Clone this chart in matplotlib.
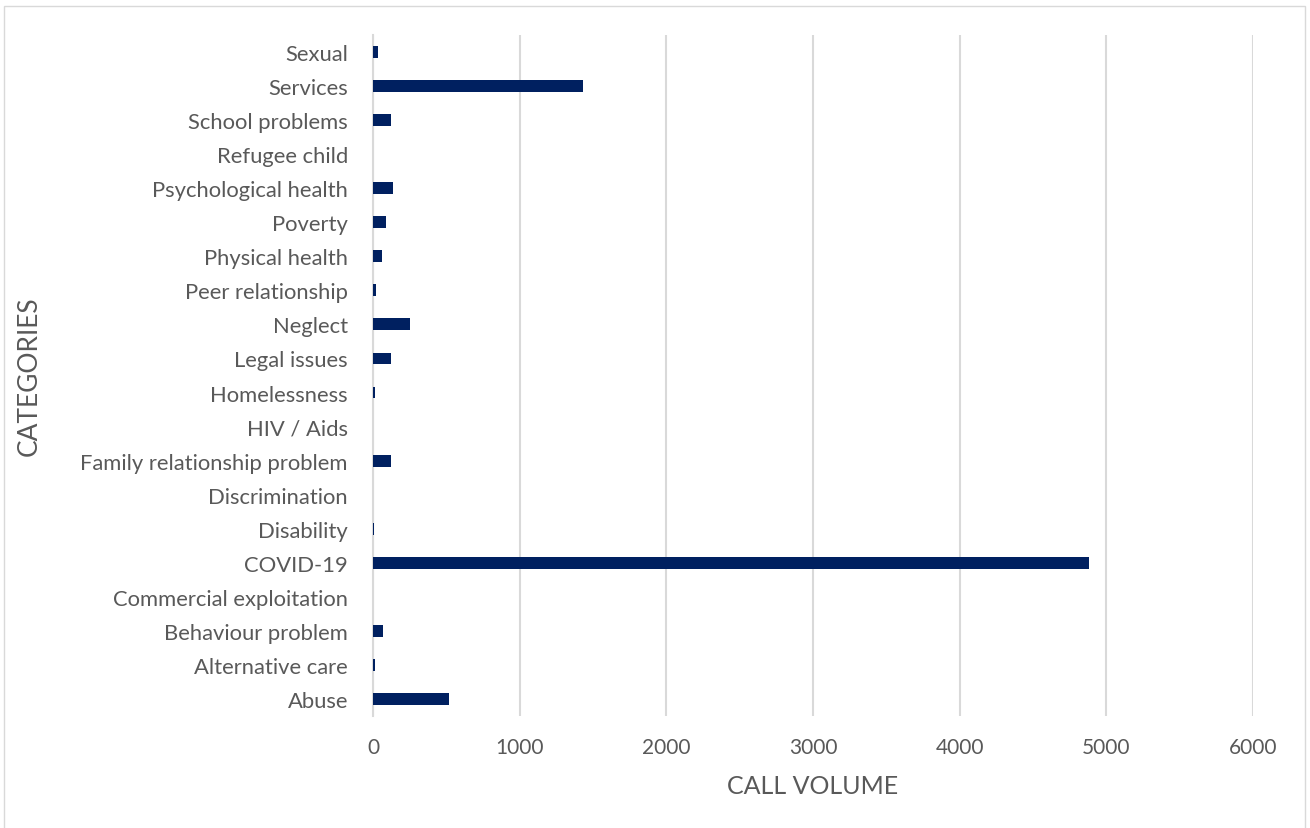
import matplotlib
matplotlib.use("Agg")
import matplotlib.pyplot as plt
from matplotlib.patches import Rectangle

# Kategorien (von unten nach oben, wie im Diagramm)
categories = ["Abuse", "Alternative care", "Behaviour problem", "Commercial exploitation",
              "COVID-19", "Disability", "Discrimination", "Family relationship problem",
              "HIV / Aids", "Homelessness", "Legal issues", "Neglect", "Peer relationship",
              "Physical health", "Poverty", "Psychological health", "Refugee child",
              "School problems", "Services", "Sexual"]
calls = [520, 14, 68, 1, 4885, 5, 0, 123, 2, 11, 121, 252, 23, 59, 89, 139, 0, 126, 1435, 32]
xticks = [0, 1000, 2000, 3000, 4000, 5000, 6000]

plt.rcParams['font.family'] = ['Lato', 'DejaVu Sans']
grey = '#595959'

fig = plt.figure(figsize=(13.1, 8.29), dpi=100)
fig.patches.append(Rectangle((0.003, -0.01), 0.993, 1.002, transform=fig.transFigure,
                             fill=False, edgecolor='#d9d9d9', linewidth=1))

ax = fig.add_axes([0.2847, 0.1351, 0.6718, 0.8215])
ax.barh(range(len(categories)), calls, height=0.35, color='#002060', zorder=3)

ax.set_xlim(0, 6000)
ax.set_ylim(-0.5, len(categories) - 0.5)
ax.set_xticks(xticks)
ax.set_yticks(range(len(categories)))
ax.set_yticklabels(categories)
ax.grid(axis='x', color='#d9d9d9', linewidth=1.5, zorder=0)
ax.set_axisbelow(True)

for s in ['top', 'right', 'bottom']:
    ax.spines[s].set_visible(False)
ax.spines['left'].set_color('#d9d9d9')
ax.spines['left'].set_linewidth(1.5)

ax.tick_params(axis='y', length=0, pad=18, labelsize=15.8, labelcolor=grey)
ax.tick_params(axis='x', length=0, pad=15, labelsize=15, labelcolor=grey)

ax.set_xlabel('CALL VOLUME', fontsize=18, color=grey, labelpad=12)
ax.set_ylabel('CATEGORIES', fontsize=19, color=grey)
ax.yaxis.set_label_coords(-0.376, 0.5)

fig.savefig('out.png', dpi=100)
